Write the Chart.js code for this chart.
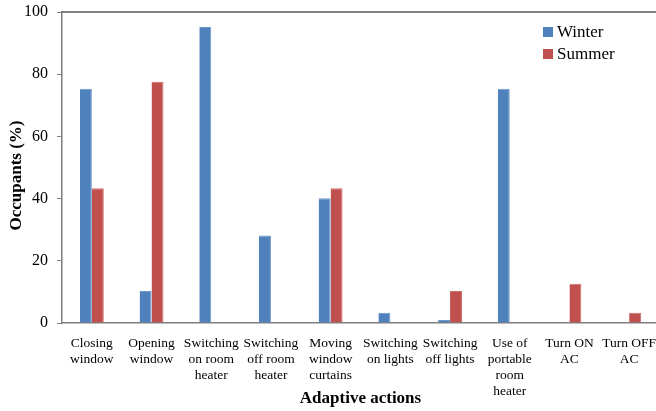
<!DOCTYPE html>
<html>
<head>
<meta charset="utf-8">
<script src="https://cdn.jsdelivr.net/npm/chart.js@4"></script>
<style>
html,body{margin:0;padding:0;background:#fff;overflow:hidden;width:656px;height:411px;}
canvas{display:block;}
</style>
</head>
<body>
<canvas id="c" width="659" height="411"></canvas>
<script>
const categories = [
  ["Closing","window"],
  ["Opening","window"],
  ["Switching","on room","heater"],
  ["Switching","off room","heater"],
  ["Moving","window","curtains"],
  ["Switching","on lights"],
  ["Switching","off lights"],
  ["Use of","portable","room","heater"],
  ["Turn ON","AC"],
  ["Turn OFF","AC"]
];
const seriesNames = ["Winter", "Summer"];
const winter = [75.3, 10.3, 95.2, 28.1, 40.1, 3.3, 1.0, 75.3, null, null];
const summer = [43.3, 77.6, null, null, 43.3, null, 10.3, null, 12.6, 3.3];
const yTicks = [0, 20, 40, 60, 80, 100];
const yTitle = "Occupants (%)";
const xTitle = "Adaptive actions";

const serif = "'Liberation Serif', 'DejaVu Serif', serif";

const frame = {
  id: 'frame',
  afterDraw(chart) {
    const {ctx, chartArea} = chart;
    ctx.save();
    ctx.strokeStyle = '#5a5a5a';
    ctx.lineWidth = 1.5;
    ctx.beginPath();
    ctx.moveTo(chartArea.left, chartArea.top);
    ctx.lineTo(chartArea.right + 5, chartArea.top);
    ctx.stroke();
    // y title
    ctx.save();
    ctx.translate(17, (chartArea.top + chartArea.bottom) / 2 + 8);
    ctx.rotate(-Math.PI / 2);
    ctx.font = "bold 17px " + serif;
    ctx.fillStyle = '#000';
    ctx.textAlign = 'center';
    ctx.textBaseline = 'middle';
    ctx.fillText(yTitle, 0, 0);
    ctx.restore();
    // legend
    const x0 = chartArea.left + 481;
    const y0 = chartArea.top + 20;
    ctx.font = "17px " + serif;
    ctx.textBaseline = 'middle';
    ctx.textAlign = 'left';
    chart.data.datasets.forEach((ds, i) => {
      const y = y0 + i * 22;
      ctx.fillStyle = ds.backgroundColor;
      ctx.fillRect(x0, y - 5, 10, 10);
      ctx.fillStyle = '#000';
      ctx.fillText(ds.label, x0 + 14, y + 1);
    });
    ctx.restore();
  }
};

new Chart(document.getElementById('c'), {
  type: 'bar',
  data: {
    labels: categories,
    datasets: [
      { label: seriesNames[0], data: winter, backgroundColor: '#4F81BD', borderColor: '#6E97C9', borderWidth: {left:0,right:1,top:1,bottom:0} },
      { label: seriesNames[1], data: summer, backgroundColor: '#C0504D', borderColor: '#CE6E6B', borderWidth: {left:0,right:1,top:1,bottom:0} }
    ]
  },
  options: {
    responsive: false,
    animation: false,
    layout: { padding: { top: 12, right: 0, left: 0, bottom: 0 } },
    datasets: { bar: { categoryPercentage: 0.4, barPercentage: 1.0, grouped: true } },
    plugins: { legend: { display: false }, tooltip: { enabled: false } },
    scales: {
      x: {
        grid: { display: true, drawOnChartArea: false, drawTicks: false },
        border: { display: true, color: '#7f7f7f', width: 1.5 },
        ticks: { color: '#000', font: { family: serif, size: 13.5, lineHeight: 1.19 }, padding: 12, maxRotation: 0, autoSkip: false },
        title: { display: true, text: xTitle, color: '#000', font: { family: serif, size: 17, weight: 'bold' }, padding: { top: 0, bottom: 2 } },
        afterFit(s) { s.height = 88; s.paddingLeft = 0; s.paddingRight = 0; }
      },
      y: {
        min: 0, max: 100,
        afterBuildTicks(s) { s.ticks = yTicks.map(v => ({ value: v })); },
        grid: { display: true, drawOnChartArea: false, drawTicks: true, tickLength: 5, color: '#7f7f7f', lineWidth: 1 },
        border: { display: true, color: '#7f7f7f', width: 1.5 },
        ticks: { color: '#000', font: { family: serif, size: 16 }, padding: 9 },
        title: { display: false },
        afterFit(s) { s.width = 62; s.paddingTop = 0; s.paddingBottom = 0; }
      }
    }
  },
  plugins: [frame]
});
</script>
</body>
</html>
